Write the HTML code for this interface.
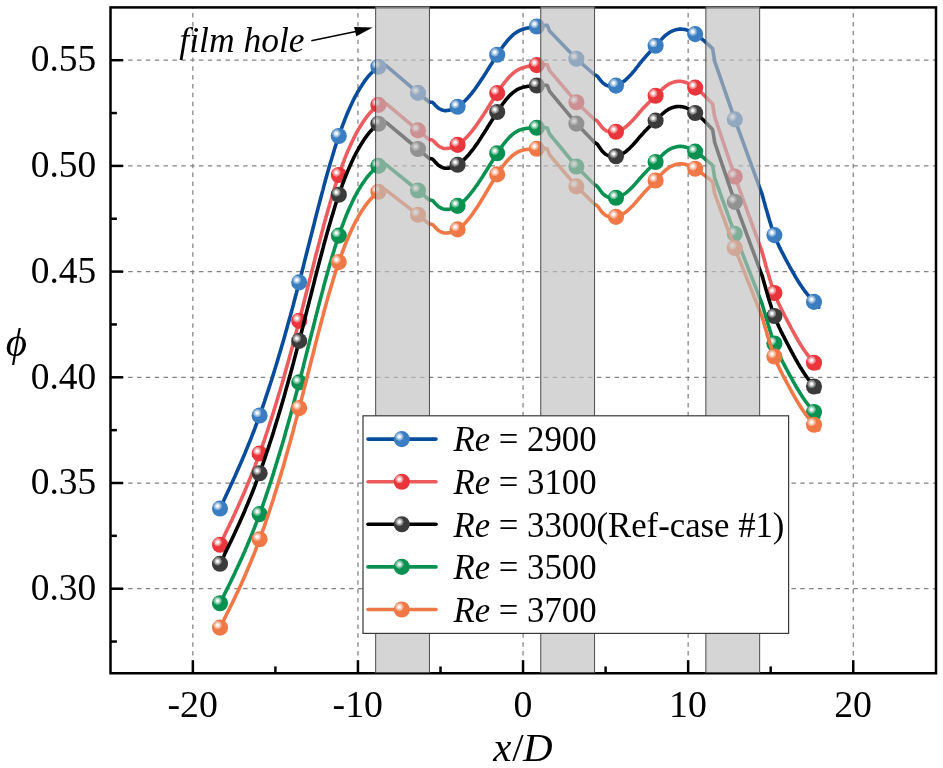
<!DOCTYPE html>
<html><head><meta charset="utf-8"><title>chart</title>
<style>
html,body{margin:0;padding:0;background:#fff;}
body{width:943px;height:768px;overflow:hidden;}
svg{display:block;will-change:transform;}
.s{font-family:"Liberation Serif",serif;fill:#000;}
</style></head><body>
<svg width="943" height="768" viewBox="0 0 943 768">
<defs>
<radialGradient id="g_blue" gradientUnits="objectBoundingBox" cx="0.35" cy="0.345" r="0.27"><stop offset="0" stop-color="#fff" stop-opacity="1"/><stop offset="0.22" stop-color="#fff" stop-opacity="0.97"/><stop offset="0.6" stop-color="#fff" stop-opacity="0.55"/><stop offset="0.97" stop-color="#fff" stop-opacity="0.2"/><stop offset="1" stop-color="#fff" stop-opacity="0"/></radialGradient>
<radialGradient id="g_red" gradientUnits="objectBoundingBox" cx="0.35" cy="0.345" r="0.27"><stop offset="0" stop-color="#fff" stop-opacity="1"/><stop offset="0.22" stop-color="#fff" stop-opacity="0.97"/><stop offset="0.6" stop-color="#fff" stop-opacity="0.55"/><stop offset="0.97" stop-color="#fff" stop-opacity="0.2"/><stop offset="1" stop-color="#fff" stop-opacity="0"/></radialGradient>
<radialGradient id="g_black" gradientUnits="objectBoundingBox" cx="0.35" cy="0.345" r="0.27"><stop offset="0" stop-color="#fff" stop-opacity="1"/><stop offset="0.22" stop-color="#fff" stop-opacity="0.97"/><stop offset="0.6" stop-color="#fff" stop-opacity="0.55"/><stop offset="0.97" stop-color="#fff" stop-opacity="0.2"/><stop offset="1" stop-color="#fff" stop-opacity="0"/></radialGradient>
<radialGradient id="g_green" gradientUnits="objectBoundingBox" cx="0.35" cy="0.345" r="0.27"><stop offset="0" stop-color="#fff" stop-opacity="1"/><stop offset="0.22" stop-color="#fff" stop-opacity="0.97"/><stop offset="0.6" stop-color="#fff" stop-opacity="0.55"/><stop offset="0.97" stop-color="#fff" stop-opacity="0.2"/><stop offset="1" stop-color="#fff" stop-opacity="0"/></radialGradient>
<radialGradient id="g_orange" gradientUnits="objectBoundingBox" cx="0.35" cy="0.345" r="0.27"><stop offset="0" stop-color="#fff" stop-opacity="1"/><stop offset="0.22" stop-color="#fff" stop-opacity="0.97"/><stop offset="0.6" stop-color="#fff" stop-opacity="0.55"/><stop offset="0.97" stop-color="#fff" stop-opacity="0.2"/><stop offset="1" stop-color="#fff" stop-opacity="0"/></radialGradient>
</defs>
<rect width="943" height="768" fill="#fff"/>
<g stroke="#828282" stroke-width="1.25" fill="none">
<path stroke-dasharray="4.45 4.411" d="M192.85 673.25 V7.40"/>
<path stroke-dasharray="4.45 4.411" d="M357.95 673.25 V7.40"/>
<path stroke-dasharray="4.45 4.411" d="M523.05 673.25 V7.40"/>
<path stroke-dasharray="4.45 4.411" d="M688.15 673.25 V7.40"/>
<path stroke-dasharray="4.45 4.411" d="M853.25 673.25 V7.40"/>
<path stroke-dasharray="4.45 4.393" d="M110.50 588.70 H936.00"/>
<path stroke-dasharray="4.45 4.393" d="M110.50 483.00 H936.00"/>
<path stroke-dasharray="4.45 4.393" d="M110.50 377.30 H936.00"/>
<path stroke-dasharray="4.45 4.393" d="M110.50 271.60 H936.00"/>
<path stroke-dasharray="4.45 4.393" d="M110.50 165.90 H936.00"/>
<path stroke-dasharray="4.45 4.393" d="M110.50 60.20 H936.00"/>
</g>
<path d="M220.0 508.5 L221.0 506.4 222.0 504.3 223.0 502.2 224.0 500.1 224.9 497.9 225.9 495.8 226.9 493.7 227.9 491.6 228.9 489.4 229.9 487.3 230.9 485.1 231.9 483.0 232.9 480.8 233.9 478.6 234.9 476.4 235.8 474.2 236.8 472.0 237.8 469.7 238.8 467.5 239.8 465.2 240.8 463.0 241.8 460.7 242.8 458.3 243.8 456.0 244.8 453.7 245.7 451.3 246.7 448.9 247.7 446.5 248.7 444.0 249.7 441.6 250.7 439.1 251.7 436.6 252.7 434.0 253.7 431.5 254.7 428.9 255.6 426.3 256.6 423.6 257.6 420.9 258.6 418.2 259.6 415.5 260.6 412.7 261.6 409.9 262.6 407.1 263.6 404.2 264.6 401.3 265.5 398.4 266.5 395.4 267.5 392.4 268.5 389.4 269.5 386.4 270.5 383.3 271.5 380.2 272.5 377.0 273.5 373.9 274.4 370.7 275.4 367.5 276.4 364.2 277.4 360.9 278.4 357.6 279.4 354.3 280.4 350.9 281.4 347.6 282.4 344.1 283.4 340.7 284.4 337.2 285.3 333.8 286.3 330.2 287.3 326.7 288.3 323.1 289.3 319.5 290.3 315.9 291.3 312.3 292.3 308.6 293.3 305.0 294.2 301.3 295.2 297.5 296.2 293.8 297.2 290.0 298.2 286.2 299.2 282.4 300.2 278.6 301.2 274.7 302.2 270.8 303.2 267.0 304.1 263.1 305.1 259.1 306.1 255.2 307.1 251.3 308.1 247.4 309.1 243.5 310.1 239.5 311.1 235.6 312.1 231.7 313.1 227.8 314.1 223.9 315.0 220.0 316.0 216.1 317.0 212.3 318.0 208.4 319.0 204.6 320.0 200.8 321.0 197.0 322.0 193.3 323.0 189.6 323.9 185.9 324.9 182.2 325.9 178.6 326.9 175.1 327.9 171.5 328.9 168.0 329.9 164.6 330.9 161.2 331.9 157.9 332.9 154.6 333.9 151.3 334.8 148.1 335.8 145.0 336.8 141.9 337.8 138.9 338.8 136.0 339.8 133.1 340.8 130.3 341.8 127.6 342.8 124.9 343.8 122.3 344.7 119.8 345.7 117.3 346.7 114.9 347.7 112.5 348.7 110.2 349.7 108.0 350.7 105.8 351.7 103.7 352.7 101.6 353.6 99.6 354.6 97.7 355.6 95.8 356.6 94.0 357.6 92.2 358.6 90.5 359.6 88.8 360.6 87.2 361.6 85.7 362.6 84.1 363.6 82.7 364.5 81.3 365.5 79.9 366.5 78.6 367.5 77.4 368.5 76.2 369.5 75.0 370.5 73.9 371.5 72.9 372.5 71.9 373.4 70.9 374.4 70.0 375.4 69.1 376.4 68.2 377.4 67.5 378.4 66.7 379.2 66.1 380.0 65.6 380.9 65.2 381.7 64.9 382.5 64.8 383.4 64.8 384.3 65.0 385.2 65.3 386.1 65.7 387.0 66.4 418.0 92.9 429.2 102.0 430.2 102.1 431.2 102.2 432.2 102.3 433.0 102.8 433.9 103.6 434.7 104.6 435.5 105.5 436.5 106.4 437.4 107.3 438.4 108.1 439.4 108.7 440.3 109.2 441.2 109.6 442.1 110.0 443.0 110.3 443.9 110.5 444.8 110.6 445.8 110.6 446.8 110.5 447.8 110.4 448.8 110.3 449.8 110.1 450.8 109.9 451.8 109.6 452.7 109.3 453.7 108.9 454.7 108.4 455.7 107.9 456.6 107.4 457.6 106.8 458.6 106.2 459.5 105.5 460.5 104.7 461.5 104.0 462.4 103.1 463.4 102.3 464.4 101.4 465.3 100.4 466.3 99.4 467.2 98.4 468.2 97.4 469.2 96.3 470.1 95.1 471.1 94.0 472.1 92.8 473.0 91.5 474.0 90.3 475.0 89.0 475.9 87.7 476.9 86.3 477.9 84.9 478.8 83.5 479.8 82.1 480.8 80.6 481.7 79.2 482.7 77.7 483.7 76.2 484.6 74.7 485.6 73.2 486.6 71.6 487.5 70.1 488.5 68.5 489.5 67.0 490.4 65.4 491.4 63.9 492.4 62.4 493.3 60.8 494.3 59.3 495.3 57.8 496.2 56.3 497.2 54.8 498.2 53.3 499.1 51.9 500.1 50.5 501.0 49.1 502.0 47.7 502.9 46.4 503.9 45.1 504.9 43.8 505.8 42.6 506.8 41.4 507.7 40.3 508.7 39.2 509.6 38.2 510.6 37.3 511.5 36.3 512.4 35.5 513.3 34.7 514.3 33.9 515.2 33.2 516.1 32.6 517.0 32.0 518.0 31.4 518.9 30.9 519.8 30.4 520.8 30.0 521.7 29.6 522.6 29.3 523.5 29.0 524.5 28.7 525.4 28.5 526.3 28.3 527.2 28.1 528.2 27.9 529.1 27.7 530.1 27.5 531.0 27.4 532.0 27.2 533.0 27.1 533.9 26.9 534.9 26.8 535.8 26.6 536.8 26.5 537.8 26.4 538.7 26.2 539.7 26.1 540.6 25.9 541.6 25.8 542.5 25.7 543.5 25.6 544.4 25.5 545.4 25.5 546.3 25.4 547.3 25.4 549.6 31.0 576.4 58.7 594.8 75.0 595.8 75.3 596.8 75.8 597.6 76.5 598.4 77.5 599.2 78.6 600.0 79.6 600.8 80.6 601.6 81.5 602.4 82.5 603.2 83.2 604.2 83.9 605.1 84.6 606.0 85.1 607.0 85.5 607.9 85.8 608.8 86.1 609.7 86.3 610.6 86.4 611.5 86.4 612.4 86.3 613.3 86.2 614.2 86.1 615.1 85.9 616.0 85.6 617.0 85.3 618.0 84.9 619.0 84.4 620.0 83.9 620.9 83.3 621.9 82.7 622.9 82.0 623.9 81.3 624.9 80.5 625.9 79.6 626.9 78.7 627.8 77.8 628.8 76.8 629.8 75.8 630.8 74.7 631.8 73.6 632.7 72.5 633.7 71.4 634.6 70.3 635.5 69.1 636.4 67.9 637.4 66.7 638.3 65.6 639.2 64.4 640.1 63.2 641.1 62.0 642.0 60.9 643.0 59.7 643.9 58.6 644.9 57.5 645.9 56.3 646.9 55.3 647.8 54.2 648.8 53.1 649.8 52.0 650.7 51.0 651.7 49.9 652.7 48.9 653.7 47.8 654.6 46.8 655.6 45.7 656.6 44.6 657.5 43.6 658.5 42.5 659.5 41.4 660.4 40.4 661.4 39.4 662.3 38.4 663.3 37.4 664.3 36.5 665.2 35.6 666.2 34.8 667.2 34.1 668.1 33.4 669.0 32.8 670.0 32.2 671.0 31.7 671.9 31.2 672.8 30.8 673.8 30.4 674.8 30.1 675.7 29.8 676.7 29.6 677.6 29.4 678.6 29.2 679.5 29.1 680.5 29.1 681.4 29.1 682.3 29.2 683.2 29.3 684.1 29.4 685.1 29.6 686.0 29.8 686.9 30.1 687.8 30.4 688.7 30.7 689.6 31.1 690.6 31.5 691.5 32.0 692.4 32.5 693.4 33.0 694.3 33.5 695.2 34.1 696.2 34.7 697.1 35.4 698.1 36.1 699.1 36.8 700.0 37.5 701.0 38.3 702.0 39.1 702.9 39.9 703.9 40.7 704.9 41.5 705.8 42.4 706.8 43.3 707.8 44.1 708.7 45.0 709.7 45.9 710.7 46.8 711.6 47.7 712.6 48.6 714.7 61.4 734.8 119.4 760.0 188.6 762.0 194.0 763.0 197.5 763.9 200.9 764.9 204.3 765.8 207.7 766.8 211.1 767.7 214.4 768.7 217.6 769.6 220.8 770.6 223.9 771.5 226.8 772.5 229.7 773.4 232.5 774.4 235.1 775.3 237.6 776.3 239.9 777.2 242.2 778.2 244.3 779.1 246.4 780.1 248.3 781.0 250.3 782.0 252.1 782.9 253.9 783.9 255.7 784.8 257.5 785.7 259.3 786.7 261.0 787.6 262.8 788.6 264.5 789.5 266.3 790.5 268.0 791.4 269.7 792.4 271.4 793.3 273.0 794.3 274.7 795.2 276.3 796.1 277.9 797.1 279.5 798.0 281.0 799.0 282.5 799.9 284.0 800.8 285.4 801.8 286.8 802.7 288.2 803.7 289.5 804.6 290.8 805.5 292.0 806.5 293.2 807.4 294.4 808.4 295.5 809.3 296.6 810.2 297.7 811.2 298.8 812.1 299.8 813.1 300.9 814.0 301.9 818.7 307.1" fill="none" stroke="#0a4c9c" stroke-width="3.6" stroke-linecap="round" stroke-linejoin="round"/>
<circle cx="220.00" cy="508.50" r="8.05" fill="#3a7dc0"/><circle cx="220.00" cy="508.50" r="8.05" fill="url(#g_blue)"/>
<circle cx="259.60" cy="415.50" r="8.05" fill="#3a7dc0"/><circle cx="259.60" cy="415.50" r="8.05" fill="url(#g_blue)"/>
<circle cx="299.20" cy="282.40" r="8.05" fill="#3a7dc0"/><circle cx="299.20" cy="282.40" r="8.05" fill="url(#g_blue)"/>
<circle cx="338.80" cy="136.00" r="8.05" fill="#3a7dc0"/><circle cx="338.80" cy="136.00" r="8.05" fill="url(#g_blue)"/>
<circle cx="378.40" cy="66.70" r="8.05" fill="#3a7dc0"/><circle cx="378.40" cy="66.70" r="8.05" fill="url(#g_blue)"/>
<circle cx="418.00" cy="92.90" r="8.05" fill="#3a7dc0"/><circle cx="418.00" cy="92.90" r="8.05" fill="url(#g_blue)"/>
<circle cx="457.60" cy="106.80" r="8.05" fill="#3a7dc0"/><circle cx="457.60" cy="106.80" r="8.05" fill="url(#g_blue)"/>
<circle cx="497.20" cy="54.80" r="8.05" fill="#3a7dc0"/><circle cx="497.20" cy="54.80" r="8.05" fill="url(#g_blue)"/>
<circle cx="536.80" cy="26.50" r="8.05" fill="#3a7dc0"/><circle cx="536.80" cy="26.50" r="8.05" fill="url(#g_blue)"/>
<circle cx="576.40" cy="58.70" r="8.05" fill="#3a7dc0"/><circle cx="576.40" cy="58.70" r="8.05" fill="url(#g_blue)"/>
<circle cx="616.00" cy="85.60" r="8.05" fill="#3a7dc0"/><circle cx="616.00" cy="85.60" r="8.05" fill="url(#g_blue)"/>
<circle cx="655.60" cy="45.70" r="8.05" fill="#3a7dc0"/><circle cx="655.60" cy="45.70" r="8.05" fill="url(#g_blue)"/>
<circle cx="695.20" cy="34.10" r="8.05" fill="#3a7dc0"/><circle cx="695.20" cy="34.10" r="8.05" fill="url(#g_blue)"/>
<circle cx="734.80" cy="119.40" r="8.05" fill="#3a7dc0"/><circle cx="734.80" cy="119.40" r="8.05" fill="url(#g_blue)"/>
<circle cx="774.40" cy="235.10" r="8.05" fill="#3a7dc0"/><circle cx="774.40" cy="235.10" r="8.05" fill="url(#g_blue)"/>
<circle cx="814.00" cy="301.90" r="8.05" fill="#3a7dc0"/><circle cx="814.00" cy="301.90" r="8.05" fill="url(#g_blue)"/>
<path d="M220.0 544.7 L221.0 542.7 222.0 540.6 223.0 538.6 224.0 536.5 224.9 534.4 225.9 532.4 226.9 530.3 227.9 528.2 228.9 526.2 229.9 524.1 230.9 522.0 231.9 519.9 232.9 517.7 233.9 515.6 234.9 513.5 235.8 511.3 236.8 509.2 237.8 507.0 238.8 504.8 239.8 502.6 240.8 500.3 241.8 498.1 242.8 495.8 243.8 493.5 244.8 491.2 245.7 488.9 246.7 486.5 247.7 484.1 248.7 481.7 249.7 479.3 250.7 476.9 251.7 474.4 252.7 471.9 253.7 469.3 254.7 466.8 255.6 464.2 256.6 461.6 257.6 458.9 258.6 456.2 259.6 453.5 260.6 450.7 261.6 448.0 262.6 445.1 263.6 442.3 264.6 439.4 265.5 436.5 266.5 433.5 267.5 430.6 268.5 427.5 269.5 424.5 270.5 421.4 271.5 418.3 272.5 415.2 273.5 412.1 274.4 408.9 275.4 405.7 276.4 402.4 277.4 399.1 278.4 395.8 279.4 392.5 280.4 389.2 281.4 385.8 282.4 382.4 283.4 379.0 284.4 375.5 285.3 372.0 286.3 368.5 287.3 365.0 288.3 361.4 289.3 357.8 290.3 354.2 291.3 350.6 292.3 347.0 293.3 343.3 294.2 339.6 295.2 335.9 296.2 332.1 297.2 328.4 298.2 324.6 299.2 320.8 300.2 317.0 301.2 313.1 302.2 309.3 303.2 305.4 304.1 301.5 305.1 297.6 306.1 293.7 307.1 289.8 308.1 285.9 309.1 282.0 310.1 278.1 311.1 274.2 312.1 270.3 313.1 266.4 314.1 262.5 315.0 258.7 316.0 254.8 317.0 251.0 318.0 247.2 319.0 243.4 320.0 239.6 321.0 235.8 322.0 232.1 323.0 228.4 323.9 224.7 324.9 221.1 325.9 217.5 326.9 214.0 327.9 210.4 328.9 207.0 329.9 203.5 330.9 200.2 331.9 196.8 332.9 193.5 333.9 190.3 334.8 187.1 335.8 184.0 336.8 180.9 337.8 177.9 338.8 175.0 339.8 172.1 340.8 169.3 341.8 166.6 342.8 163.9 343.8 161.3 344.7 158.7 345.7 156.2 346.7 153.8 347.7 151.4 348.7 149.1 349.7 146.9 350.7 144.7 351.7 142.5 352.7 140.5 353.6 138.4 354.6 136.5 355.6 134.6 356.6 132.7 357.6 130.9 358.6 129.2 359.6 127.5 360.6 125.8 361.6 124.3 362.6 122.7 363.6 121.3 364.5 119.8 365.5 118.5 366.5 117.1 367.5 115.9 368.5 114.6 369.5 113.4 370.5 112.3 371.5 111.2 372.5 110.2 373.4 109.2 374.4 108.2 375.4 107.3 376.4 106.5 377.4 105.7 378.4 104.9 379.2 104.3 380.0 103.8 380.9 103.3 381.7 103.0 382.5 102.9 383.4 102.9 384.3 103.1 385.2 103.3 386.1 103.8 387.0 104.4 418.0 130.4 429.2 139.6 430.2 139.7 431.2 139.8 432.2 140.0 433.0 140.5 433.9 141.3 434.7 142.3 435.5 143.2 436.5 144.1 437.4 145.0 438.4 145.9 439.4 146.5 440.3 147.0 441.2 147.4 442.1 147.8 443.0 148.2 443.9 148.4 444.8 148.5 445.8 148.5 446.8 148.5 447.8 148.4 448.8 148.3 449.8 148.1 450.8 147.9 451.8 147.6 452.7 147.3 453.7 146.9 454.7 146.5 455.7 146.0 456.6 145.5 457.6 144.9 458.6 144.3 459.5 143.6 460.5 142.9 461.5 142.1 462.4 141.3 463.4 140.4 464.4 139.5 465.3 138.6 466.3 137.6 467.2 136.6 468.2 135.5 469.2 134.4 470.1 133.3 471.1 132.1 472.1 130.9 473.0 129.7 474.0 128.5 475.0 127.2 475.9 125.9 476.9 124.5 477.9 123.1 478.8 121.7 479.8 120.3 480.8 118.9 481.7 117.4 482.7 115.9 483.7 114.4 484.6 112.9 485.6 111.4 486.6 109.9 487.5 108.3 488.5 106.8 489.5 105.3 490.4 103.7 491.4 102.2 492.4 100.6 493.3 99.1 494.3 97.6 495.3 96.1 496.2 94.6 497.2 93.1 498.2 91.6 499.1 90.2 500.1 88.8 501.0 87.4 502.0 86.0 502.9 84.7 503.9 83.4 504.9 82.2 505.8 80.9 506.8 79.8 507.7 78.6 508.7 77.6 509.6 76.6 510.6 75.6 511.5 74.7 512.4 73.9 513.3 73.1 514.3 72.3 515.2 71.6 516.1 71.0 517.0 70.4 518.0 69.8 518.9 69.3 519.8 68.9 520.8 68.5 521.7 68.1 522.6 67.8 523.5 67.5 524.5 67.2 525.4 67.0 526.3 66.7 527.2 66.5 528.2 66.4 529.1 66.2 530.1 66.0 531.0 65.9 532.0 65.8 533.0 65.6 533.9 65.5 534.9 65.4 535.8 65.2 536.8 65.1 537.8 65.0 538.7 64.9 539.7 64.8 540.6 64.7 541.6 64.6 542.5 64.6 543.5 64.6 544.4 64.6 545.4 64.6 546.3 64.7 547.3 64.8 549.6 70.6 576.4 102.2 594.8 119.8 595.8 120.2 596.8 120.7 597.6 121.5 598.4 122.5 599.2 123.6 600.0 124.7 600.8 125.7 601.6 126.8 602.4 127.7 603.2 128.5 604.2 129.3 605.1 130.0 606.0 130.6 607.0 131.1 607.9 131.4 608.8 131.8 609.7 132.1 610.6 132.2 611.5 132.2 612.4 132.2 613.3 132.2 614.2 132.1 615.1 132.0 616.0 131.8 617.0 131.5 618.0 131.2 619.0 130.9 620.0 130.4 620.9 129.9 621.9 129.4 622.9 128.8 623.9 128.2 624.9 127.5 625.9 126.7 626.9 125.9 627.8 125.1 628.8 124.2 629.8 123.3 630.8 122.3 631.8 121.3 632.7 120.3 633.7 119.3 634.6 118.2 635.5 117.2 636.4 116.1 637.4 115.0 638.3 113.9 639.2 112.8 640.1 111.8 641.1 110.7 642.0 109.6 643.0 108.6 643.9 107.5 644.9 106.5 645.9 105.5 646.9 104.5 647.8 103.5 648.8 102.6 649.8 101.6 650.7 100.6 651.7 99.7 652.7 98.7 653.7 97.7 654.6 96.8 655.6 95.8 656.6 94.8 657.5 93.8 658.5 92.8 659.5 91.9 660.4 90.9 661.4 90.0 662.3 89.1 663.3 88.2 664.3 87.4 665.2 86.6 666.2 85.8 667.2 85.2 668.1 84.6 669.0 84.0 670.0 83.5 671.0 83.1 671.9 82.7 672.8 82.4 673.8 82.1 674.8 81.8 675.7 81.6 676.7 81.5 677.6 81.4 678.6 81.3 679.5 81.3 680.5 81.3 681.4 81.4 682.3 81.6 683.2 81.7 684.1 82.0 685.1 82.2 686.0 82.5 686.9 82.9 687.8 83.3 688.7 83.7 689.6 84.1 690.6 84.6 691.5 85.2 692.4 85.7 693.4 86.3 694.3 86.9 695.2 87.6 696.2 88.3 697.1 89.1 698.1 89.8 699.1 90.7 700.0 91.5 701.0 92.4 702.0 93.2 702.9 94.1 703.9 95.1 704.9 96.0 705.8 97.0 706.8 97.9 707.8 98.9 708.7 99.9 709.7 100.9 710.7 101.9 711.6 102.9 712.6 103.9 714.7 116.9 734.8 176.5 760.0 246.2 762.0 251.6 763.0 255.1 763.9 258.6 764.9 262.0 765.8 265.4 766.8 268.8 767.7 272.1 768.7 275.4 769.6 278.5 770.6 281.6 771.5 284.7 772.5 287.6 773.4 290.3 774.4 293.0 775.3 295.5 776.3 297.9 777.2 300.2 778.2 302.4 779.1 304.4 780.1 306.5 781.0 308.4 782.0 310.3 782.9 312.2 783.9 314.1 784.8 315.9 785.7 317.7 786.7 319.5 787.6 321.3 788.6 323.2 789.5 324.9 790.5 326.7 791.4 328.5 792.4 330.3 793.3 332.0 794.3 333.7 795.2 335.4 796.1 337.1 797.1 338.7 798.0 340.4 799.0 341.9 799.9 343.5 800.8 345.0 801.8 346.5 802.7 348.0 803.7 349.4 804.6 350.8 805.5 352.1 806.5 353.4 807.4 354.6 808.4 355.9 809.3 357.1 810.2 358.2 811.2 359.4 812.1 360.5 813.1 361.7 814.0 362.8 818.7 368.0" fill="none" stroke="#ec5c5e" stroke-width="3.6" stroke-linecap="round" stroke-linejoin="round"/>
<circle cx="220.00" cy="544.70" r="8.05" fill="#e8363c"/><circle cx="220.00" cy="544.70" r="8.05" fill="url(#g_red)"/>
<circle cx="259.60" cy="453.50" r="8.05" fill="#e8363c"/><circle cx="259.60" cy="453.50" r="8.05" fill="url(#g_red)"/>
<circle cx="299.20" cy="320.80" r="8.05" fill="#e8363c"/><circle cx="299.20" cy="320.80" r="8.05" fill="url(#g_red)"/>
<circle cx="338.80" cy="175.00" r="8.05" fill="#e8363c"/><circle cx="338.80" cy="175.00" r="8.05" fill="url(#g_red)"/>
<circle cx="378.40" cy="104.90" r="8.05" fill="#e8363c"/><circle cx="378.40" cy="104.90" r="8.05" fill="url(#g_red)"/>
<circle cx="418.00" cy="130.40" r="8.05" fill="#e8363c"/><circle cx="418.00" cy="130.40" r="8.05" fill="url(#g_red)"/>
<circle cx="457.60" cy="144.90" r="8.05" fill="#e8363c"/><circle cx="457.60" cy="144.90" r="8.05" fill="url(#g_red)"/>
<circle cx="497.20" cy="93.10" r="8.05" fill="#e8363c"/><circle cx="497.20" cy="93.10" r="8.05" fill="url(#g_red)"/>
<circle cx="536.80" cy="65.10" r="8.05" fill="#e8363c"/><circle cx="536.80" cy="65.10" r="8.05" fill="url(#g_red)"/>
<circle cx="576.40" cy="102.20" r="8.05" fill="#e8363c"/><circle cx="576.40" cy="102.20" r="8.05" fill="url(#g_red)"/>
<circle cx="616.00" cy="131.80" r="8.05" fill="#e8363c"/><circle cx="616.00" cy="131.80" r="8.05" fill="url(#g_red)"/>
<circle cx="655.60" cy="95.80" r="8.05" fill="#e8363c"/><circle cx="655.60" cy="95.80" r="8.05" fill="url(#g_red)"/>
<circle cx="695.20" cy="87.60" r="8.05" fill="#e8363c"/><circle cx="695.20" cy="87.60" r="8.05" fill="url(#g_red)"/>
<circle cx="734.80" cy="176.50" r="8.05" fill="#e8363c"/><circle cx="734.80" cy="176.50" r="8.05" fill="url(#g_red)"/>
<circle cx="774.40" cy="293.00" r="8.05" fill="#e8363c"/><circle cx="774.40" cy="293.00" r="8.05" fill="url(#g_red)"/>
<circle cx="814.00" cy="362.80" r="8.05" fill="#e8363c"/><circle cx="814.00" cy="362.80" r="8.05" fill="url(#g_red)"/>
<path d="M220.0 563.8 L221.0 561.8 222.0 559.7 223.0 557.7 224.0 555.7 224.9 553.6 225.9 551.6 226.9 549.5 227.9 547.5 228.9 545.4 229.9 543.3 230.9 541.3 231.9 539.2 232.9 537.1 233.9 534.9 234.9 532.8 235.8 530.7 236.8 528.5 237.8 526.4 238.8 524.2 239.8 522.0 240.8 519.8 241.8 517.5 242.8 515.3 243.8 513.0 244.8 510.7 245.7 508.4 246.7 506.0 247.7 503.7 248.7 501.3 249.7 498.9 250.7 496.4 251.7 494.0 252.7 491.5 253.7 489.0 254.7 486.4 255.6 483.8 256.6 481.2 257.6 478.6 258.6 475.9 259.6 473.2 260.6 470.5 261.6 467.7 262.6 464.9 263.6 462.0 264.6 459.2 265.5 456.3 266.5 453.3 267.5 450.4 268.5 447.4 269.5 444.3 270.5 441.3 271.5 438.2 272.5 435.1 273.5 432.0 274.4 428.8 275.4 425.6 276.4 422.3 277.4 419.1 278.4 415.8 279.4 412.5 280.4 409.2 281.4 405.8 282.4 402.4 283.4 399.0 284.4 395.5 285.3 392.1 286.3 388.6 287.3 385.0 288.3 381.5 289.3 377.9 290.3 374.3 291.3 370.7 292.3 367.1 293.3 363.4 294.2 359.7 295.2 356.0 296.2 352.2 297.2 348.5 298.2 344.7 299.2 340.9 300.2 337.1 301.2 333.2 302.2 329.4 303.2 325.5 304.1 321.6 305.1 317.7 306.1 313.8 307.1 309.9 308.1 306.0 309.1 302.1 310.1 298.1 311.1 294.2 312.1 290.3 313.1 286.4 314.1 282.5 315.0 278.7 316.0 274.8 317.0 270.9 318.0 267.1 319.0 263.3 320.0 259.5 321.0 255.8 322.0 252.0 323.0 248.3 323.9 244.6 324.9 241.0 325.9 237.4 326.9 233.8 327.9 230.3 328.9 226.8 329.9 223.4 330.9 220.0 331.9 216.6 332.9 213.4 333.9 210.1 334.8 206.9 335.8 203.8 336.8 200.7 337.8 197.7 338.8 194.8 339.8 191.9 340.8 189.1 341.8 186.4 342.8 183.7 343.8 181.0 344.7 178.5 345.7 176.0 346.7 173.5 347.7 171.1 348.7 168.8 349.7 166.5 350.7 164.3 351.7 162.1 352.7 160.0 353.6 158.0 354.6 156.0 355.6 154.0 356.6 152.1 357.6 150.3 358.6 148.5 359.6 146.8 360.6 145.1 361.6 143.5 362.6 142.0 363.6 140.4 364.5 139.0 365.5 137.6 366.5 136.2 367.5 134.9 368.5 133.6 369.5 132.4 370.5 131.3 371.5 130.2 372.5 129.1 373.4 128.1 374.4 127.1 375.4 126.2 376.4 125.3 377.4 124.5 378.4 123.7 379.2 123.1 380.0 122.5 380.9 122.1 381.7 121.8 382.5 121.7 383.4 121.7 384.3 121.8 385.2 122.1 386.1 122.5 387.0 123.1 418.0 149.0 429.2 158.5 430.2 158.6 431.2 158.8 432.2 159.0 433.0 159.5 433.9 160.4 434.7 161.5 435.5 162.4 436.5 163.3 437.4 164.3 438.4 165.2 439.4 165.9 440.3 166.4 441.2 166.9 442.1 167.3 443.0 167.7 443.9 168.0 444.8 168.1 445.8 168.2 446.8 168.2 447.8 168.2 448.8 168.1 449.8 167.9 450.8 167.8 451.8 167.5 452.7 167.2 453.7 166.8 454.7 166.4 455.7 165.9 456.6 165.4 457.6 164.8 458.6 164.2 459.5 163.5 460.5 162.7 461.5 161.9 462.4 161.1 463.4 160.2 464.4 159.3 465.3 158.3 466.3 157.3 467.2 156.3 468.2 155.2 469.2 154.1 470.1 152.9 471.1 151.7 472.1 150.5 473.0 149.3 474.0 148.0 475.0 146.6 475.9 145.3 476.9 143.9 477.9 142.5 478.8 141.1 479.8 139.6 480.8 138.1 481.7 136.6 482.7 135.1 483.7 133.6 484.6 132.1 485.6 130.5 486.6 129.0 487.5 127.4 488.5 125.8 489.5 124.3 490.4 122.7 491.4 121.2 492.4 119.6 493.3 118.1 494.3 116.5 495.3 115.0 496.2 113.5 497.2 112.0 498.2 110.5 499.1 109.1 500.1 107.7 501.0 106.3 502.0 105.0 502.9 103.6 503.9 102.4 504.9 101.1 505.8 99.9 506.8 98.8 507.7 97.7 508.7 96.6 509.6 95.6 510.6 94.7 511.5 93.9 512.4 93.0 513.3 92.3 514.3 91.6 515.2 90.9 516.1 90.3 517.0 89.7 518.0 89.2 518.9 88.8 519.8 88.3 520.8 88.0 521.7 87.7 522.6 87.4 523.5 87.1 524.5 86.9 525.4 86.7 526.3 86.6 527.2 86.4 528.2 86.3 529.1 86.2 530.1 86.1 531.0 86.0 532.0 85.9 533.0 85.8 533.9 85.7 534.9 85.7 535.8 85.6 536.8 85.5 537.8 85.4 538.7 85.4 539.7 85.3 540.6 85.3 541.6 85.2 542.5 85.2 543.5 85.2 544.4 85.3 545.4 85.3 546.3 85.4 547.3 85.5 549.6 91.4 576.4 123.6 594.8 142.7 595.8 143.2 596.8 143.8 597.6 144.6 598.4 145.7 599.2 146.9 600.0 148.1 600.8 149.2 601.6 150.3 602.4 151.3 603.2 152.2 604.2 153.0 605.1 153.8 606.0 154.5 607.0 155.0 607.9 155.5 608.8 155.9 609.7 156.2 610.6 156.4 611.5 156.5 612.4 156.6 613.3 156.6 614.2 156.5 615.1 156.4 616.0 156.3 617.0 156.1 618.0 155.8 619.0 155.5 620.0 155.1 620.9 154.6 621.9 154.1 622.9 153.5 623.9 152.9 624.9 152.2 625.9 151.5 626.9 150.7 627.8 149.9 628.8 149.0 629.8 148.1 630.8 147.1 631.8 146.1 632.7 145.1 633.7 144.1 634.6 143.0 635.5 142.0 636.4 140.9 637.4 139.8 638.3 138.7 639.2 137.6 640.1 136.5 641.1 135.5 642.0 134.4 643.0 133.4 643.9 132.3 644.9 131.3 645.9 130.3 646.9 129.3 647.8 128.3 648.8 127.3 649.8 126.4 650.7 125.4 651.7 124.4 652.7 123.5 653.7 122.5 654.6 121.6 655.6 120.6 656.6 119.6 657.5 118.7 658.5 117.7 659.5 116.7 660.4 115.8 661.4 114.8 662.3 114.0 663.3 113.1 664.3 112.3 665.2 111.5 666.2 110.8 667.2 110.2 668.1 109.6 669.0 109.0 670.0 108.6 671.0 108.1 671.9 107.8 672.8 107.5 673.8 107.2 674.8 106.9 675.7 106.8 676.7 106.6 677.6 106.5 678.6 106.5 679.5 106.5 680.5 106.6 681.4 106.7 682.3 106.8 683.2 107.0 684.1 107.2 685.1 107.5 686.0 107.8 686.9 108.2 687.8 108.6 688.7 109.0 689.6 109.5 690.6 110.0 691.5 110.5 692.4 111.1 693.4 111.7 694.3 112.3 695.2 113.0 696.2 113.7 697.1 114.5 698.1 115.3 699.1 116.1 700.0 116.9 701.0 117.8 702.0 118.7 702.9 119.6 703.9 120.6 704.9 121.5 705.8 122.5 706.8 123.5 707.8 124.5 708.7 125.5 709.7 126.5 710.7 127.5 711.6 128.5 712.6 129.5 714.7 142.5 734.8 201.9 760.0 270.0 762.0 275.3 763.0 278.7 763.9 282.1 764.9 285.5 765.8 288.8 766.8 292.1 767.7 295.4 768.7 298.6 769.6 301.7 770.6 304.8 771.5 307.8 772.5 310.6 773.4 313.4 774.4 316.0 775.3 318.5 776.3 320.8 777.2 323.1 778.2 325.3 779.1 327.3 780.1 329.3 781.0 331.3 782.0 333.2 782.9 335.0 783.9 336.9 784.8 338.7 785.7 340.5 786.7 342.4 787.6 344.2 788.6 346.0 789.5 347.8 790.5 349.6 791.4 351.4 792.4 353.1 793.3 354.9 794.3 356.6 795.2 358.4 796.1 360.0 797.1 361.7 798.0 363.4 799.0 365.0 799.9 366.6 800.8 368.1 801.8 369.6 802.7 371.1 803.7 372.6 804.6 374.0 805.5 375.4 806.5 376.7 807.4 378.0 808.4 379.3 809.3 380.5 810.2 381.7 811.2 382.9 812.1 384.1 813.1 385.3 814.0 386.5 818.7 391.7" fill="none" stroke="#000000" stroke-width="3.6" stroke-linecap="round" stroke-linejoin="round"/>
<circle cx="220.00" cy="563.80" r="8.05" fill="#3b3b3b"/><circle cx="220.00" cy="563.80" r="8.05" fill="url(#g_black)"/>
<circle cx="259.60" cy="473.20" r="8.05" fill="#3b3b3b"/><circle cx="259.60" cy="473.20" r="8.05" fill="url(#g_black)"/>
<circle cx="299.20" cy="340.90" r="8.05" fill="#3b3b3b"/><circle cx="299.20" cy="340.90" r="8.05" fill="url(#g_black)"/>
<circle cx="338.80" cy="194.80" r="8.05" fill="#3b3b3b"/><circle cx="338.80" cy="194.80" r="8.05" fill="url(#g_black)"/>
<circle cx="378.40" cy="123.70" r="8.05" fill="#3b3b3b"/><circle cx="378.40" cy="123.70" r="8.05" fill="url(#g_black)"/>
<circle cx="418.00" cy="149.00" r="8.05" fill="#3b3b3b"/><circle cx="418.00" cy="149.00" r="8.05" fill="url(#g_black)"/>
<circle cx="457.60" cy="164.80" r="8.05" fill="#3b3b3b"/><circle cx="457.60" cy="164.80" r="8.05" fill="url(#g_black)"/>
<circle cx="497.20" cy="112.00" r="8.05" fill="#3b3b3b"/><circle cx="497.20" cy="112.00" r="8.05" fill="url(#g_black)"/>
<circle cx="536.80" cy="85.50" r="8.05" fill="#3b3b3b"/><circle cx="536.80" cy="85.50" r="8.05" fill="url(#g_black)"/>
<circle cx="576.40" cy="123.60" r="8.05" fill="#3b3b3b"/><circle cx="576.40" cy="123.60" r="8.05" fill="url(#g_black)"/>
<circle cx="616.00" cy="156.30" r="8.05" fill="#3b3b3b"/><circle cx="616.00" cy="156.30" r="8.05" fill="url(#g_black)"/>
<circle cx="655.60" cy="120.60" r="8.05" fill="#3b3b3b"/><circle cx="655.60" cy="120.60" r="8.05" fill="url(#g_black)"/>
<circle cx="695.20" cy="113.00" r="8.05" fill="#3b3b3b"/><circle cx="695.20" cy="113.00" r="8.05" fill="url(#g_black)"/>
<circle cx="734.80" cy="201.90" r="8.05" fill="#3b3b3b"/><circle cx="734.80" cy="201.90" r="8.05" fill="url(#g_black)"/>
<circle cx="774.40" cy="316.00" r="8.05" fill="#3b3b3b"/><circle cx="774.40" cy="316.00" r="8.05" fill="url(#g_black)"/>
<circle cx="814.00" cy="386.50" r="8.05" fill="#3b3b3b"/><circle cx="814.00" cy="386.50" r="8.05" fill="url(#g_black)"/>
<path d="M220.0 603.2 L221.0 601.2 222.0 599.2 223.0 597.2 224.0 595.3 224.9 593.3 225.9 591.3 226.9 589.3 227.9 587.3 228.9 585.2 229.9 583.2 230.9 581.2 231.9 579.1 232.9 577.1 233.9 575.0 234.9 572.9 235.8 570.8 236.8 568.7 237.8 566.6 238.8 564.4 239.8 562.3 240.8 560.1 241.8 557.9 242.8 555.7 243.8 553.4 244.8 551.2 245.7 548.9 246.7 546.6 247.7 544.3 248.7 541.9 249.7 539.5 250.7 537.1 251.7 534.7 252.7 532.2 253.7 529.7 254.7 527.2 255.6 524.6 256.6 522.1 257.6 519.4 258.6 516.8 259.6 514.1 260.6 511.4 261.6 508.6 262.6 505.8 263.6 503.0 264.6 500.2 265.5 497.3 266.5 494.4 267.5 491.5 268.5 488.5 269.5 485.5 270.5 482.5 271.5 479.4 272.5 476.3 273.5 473.2 274.4 470.0 275.4 466.9 276.4 463.6 277.4 460.4 278.4 457.1 279.4 453.9 280.4 450.5 281.4 447.2 282.4 443.8 283.4 440.4 284.4 437.0 285.3 433.5 286.3 430.0 287.3 426.5 288.3 423.0 289.3 419.4 290.3 415.8 291.3 412.2 292.3 408.6 293.3 404.9 294.2 401.2 295.2 397.5 296.2 393.8 297.2 390.0 298.2 386.2 299.2 382.4 300.2 378.6 301.2 374.7 302.2 370.8 303.2 366.9 304.1 363.0 305.1 359.1 306.1 355.2 307.1 351.3 308.1 347.3 309.1 343.4 310.1 339.5 311.1 335.5 312.1 331.6 313.1 327.7 314.1 323.8 315.0 319.9 316.0 316.0 317.0 312.1 318.0 308.3 319.0 304.4 320.0 300.6 321.0 296.9 322.0 293.1 323.0 289.4 323.9 285.7 324.9 282.0 325.9 278.4 326.9 274.8 327.9 271.3 328.9 267.8 329.9 264.3 330.9 260.9 331.9 257.5 332.9 254.2 333.9 251.0 334.8 247.8 335.8 244.6 336.8 241.6 337.8 238.5 338.8 235.6 339.8 232.7 340.8 229.9 341.8 227.2 342.8 224.5 343.8 221.9 344.7 219.3 345.7 216.8 346.7 214.4 347.7 212.0 348.7 209.7 349.7 207.5 350.7 205.3 351.7 203.2 352.7 201.1 353.6 199.1 354.6 197.1 355.6 195.3 356.6 193.4 357.6 191.6 358.6 189.9 359.6 188.2 360.6 186.6 361.6 185.1 362.6 183.5 363.6 182.1 364.5 180.7 365.5 179.3 366.5 178.0 367.5 176.7 368.5 175.5 369.5 174.4 370.5 173.2 371.5 172.2 372.5 171.1 373.4 170.2 374.4 169.2 375.4 168.3 376.4 167.5 377.4 166.7 378.4 165.9 379.2 165.3 380.0 164.8 380.9 164.3 381.7 164.0 382.5 163.9 383.4 163.9 384.3 164.0 385.2 164.3 386.1 164.7 387.0 165.3 418.0 190.5 429.2 199.9 430.2 200.0 431.2 200.2 432.2 200.4 433.0 200.9 433.9 201.8 434.7 202.8 435.5 203.7 436.5 204.7 437.4 205.6 438.4 206.5 439.4 207.1 440.3 207.6 441.2 208.1 442.1 208.6 443.0 208.9 443.9 209.2 444.8 209.3 445.8 209.4 446.8 209.4 447.8 209.3 448.8 209.2 449.8 209.1 450.8 208.9 451.8 208.6 452.7 208.3 453.7 207.9 454.7 207.5 455.7 207.0 456.6 206.5 457.6 205.9 458.6 205.3 459.5 204.6 460.5 203.8 461.5 203.0 462.4 202.2 463.4 201.3 464.4 200.4 465.3 199.5 466.3 198.5 467.2 197.4 468.2 196.4 469.2 195.2 470.1 194.1 471.1 192.9 472.1 191.7 473.0 190.4 474.0 189.1 475.0 187.8 475.9 186.5 476.9 185.1 477.9 183.7 478.8 182.3 479.8 180.8 480.8 179.4 481.7 177.9 482.7 176.4 483.7 174.8 484.6 173.3 485.6 171.8 486.6 170.2 487.5 168.7 488.5 167.1 489.5 165.6 490.4 164.0 491.4 162.4 492.4 160.9 493.3 159.3 494.3 157.8 495.3 156.3 496.2 154.8 497.2 153.3 498.2 151.8 499.1 150.4 500.1 149.0 501.0 147.6 502.0 146.3 502.9 145.0 503.9 143.7 504.9 142.5 505.8 141.3 506.8 140.1 507.7 139.1 508.7 138.0 509.6 137.1 510.6 136.2 511.5 135.3 512.4 134.5 513.3 133.8 514.3 133.1 515.2 132.5 516.1 131.9 517.0 131.3 518.0 130.9 518.9 130.4 519.8 130.0 520.8 129.7 521.7 129.4 522.6 129.1 523.5 128.9 524.5 128.7 525.4 128.6 526.3 128.4 527.2 128.3 528.2 128.2 529.1 128.1 530.1 128.1 531.0 128.0 532.0 127.9 533.0 127.9 533.9 127.8 534.9 127.8 535.8 127.7 536.8 127.7 537.8 127.7 538.7 127.6 539.7 127.6 540.6 127.6 541.6 127.6 542.5 127.6 543.5 127.6 544.4 127.7 545.4 127.8 546.3 127.9 547.3 128.0 549.6 134.0 576.4 166.5 594.8 184.9 595.8 185.3 596.8 185.9 597.6 186.7 598.4 187.8 599.2 188.9 600.0 190.1 600.8 191.1 601.6 192.2 602.4 193.2 603.2 194.0 604.2 194.8 605.1 195.5 606.0 196.2 607.0 196.7 607.9 197.1 608.8 197.5 609.7 197.8 610.6 197.9 611.5 198.0 612.4 198.0 613.3 198.0 614.2 198.0 615.1 197.9 616.0 197.7 617.0 197.5 618.0 197.2 619.0 196.8 620.0 196.4 620.9 196.0 621.9 195.5 622.9 194.9 623.9 194.3 624.9 193.6 625.9 192.9 626.9 192.1 627.8 191.3 628.8 190.5 629.8 189.5 630.8 188.6 631.8 187.6 632.7 186.6 633.7 185.6 634.6 184.6 635.5 183.6 636.4 182.5 637.4 181.4 638.3 180.4 639.2 179.3 640.1 178.2 641.1 177.1 642.0 176.1 643.0 175.0 643.9 174.0 644.9 173.0 645.9 171.9 646.9 170.9 647.8 169.9 648.8 169.0 649.8 168.0 650.7 167.0 651.7 166.0 652.7 165.0 653.7 164.0 654.6 163.0 655.6 162.0 656.6 161.0 657.5 159.9 658.5 158.9 659.5 157.9 660.4 156.9 661.4 155.9 662.3 155.0 663.3 154.1 664.3 153.2 665.2 152.4 666.2 151.6 667.2 150.9 668.1 150.2 669.0 149.6 670.0 149.1 671.0 148.6 671.9 148.2 672.8 147.8 673.8 147.5 674.8 147.2 675.7 146.9 676.7 146.7 677.6 146.6 678.6 146.5 679.5 146.4 680.5 146.4 681.4 146.4 682.3 146.5 683.2 146.6 684.1 146.8 685.1 147.0 686.0 147.2 686.9 147.5 687.8 147.8 688.7 148.2 689.6 148.6 690.6 149.0 691.5 149.5 692.4 150.0 693.4 150.5 694.3 151.0 695.2 151.6 696.2 152.2 697.1 152.9 698.1 153.6 699.1 154.3 700.0 155.0 701.0 155.7 702.0 156.4 702.9 157.2 703.9 158.0 704.9 158.8 705.8 159.6 706.8 160.4 707.8 161.2 708.7 162.0 709.7 162.8 710.7 163.7 711.6 164.5 712.6 165.3 714.7 177.9 734.8 233.9 760.0 298.5 762.0 303.5 763.0 306.9 763.9 310.2 764.9 313.4 765.8 316.7 766.8 320.0 767.7 323.1 768.7 326.3 769.6 329.4 770.6 332.4 771.5 335.3 772.5 338.1 773.4 340.9 774.4 343.5 775.3 346.0 776.3 348.3 777.2 350.6 778.2 352.7 779.1 354.8 780.1 356.7 781.0 358.7 782.0 360.5 782.9 362.4 783.9 364.1 784.8 365.9 785.7 367.7 786.7 369.5 787.6 371.2 788.6 373.0 789.5 374.8 790.5 376.5 791.4 378.2 792.4 379.9 793.3 381.6 794.3 383.3 795.2 384.9 796.1 386.6 797.1 388.2 798.0 389.8 799.0 391.3 799.9 392.8 800.8 394.3 801.8 395.8 802.7 397.2 803.7 398.6 804.6 400.0 805.5 401.3 806.5 402.5 807.4 403.8 808.4 405.0 809.3 406.2 810.2 407.4 811.2 408.5 812.1 409.7 813.1 410.8 814.0 412.0 818.7 417.2" fill="none" stroke="#089150" stroke-width="3.6" stroke-linecap="round" stroke-linejoin="round"/>
<circle cx="220.00" cy="603.20" r="8.05" fill="#089150"/><circle cx="220.00" cy="603.20" r="8.05" fill="url(#g_green)"/>
<circle cx="259.60" cy="514.10" r="8.05" fill="#089150"/><circle cx="259.60" cy="514.10" r="8.05" fill="url(#g_green)"/>
<circle cx="299.20" cy="382.40" r="8.05" fill="#089150"/><circle cx="299.20" cy="382.40" r="8.05" fill="url(#g_green)"/>
<circle cx="338.80" cy="235.60" r="8.05" fill="#089150"/><circle cx="338.80" cy="235.60" r="8.05" fill="url(#g_green)"/>
<circle cx="378.40" cy="165.90" r="8.05" fill="#089150"/><circle cx="378.40" cy="165.90" r="8.05" fill="url(#g_green)"/>
<circle cx="418.00" cy="190.50" r="8.05" fill="#089150"/><circle cx="418.00" cy="190.50" r="8.05" fill="url(#g_green)"/>
<circle cx="457.60" cy="205.90" r="8.05" fill="#089150"/><circle cx="457.60" cy="205.90" r="8.05" fill="url(#g_green)"/>
<circle cx="497.20" cy="153.30" r="8.05" fill="#089150"/><circle cx="497.20" cy="153.30" r="8.05" fill="url(#g_green)"/>
<circle cx="536.80" cy="127.70" r="8.05" fill="#089150"/><circle cx="536.80" cy="127.70" r="8.05" fill="url(#g_green)"/>
<circle cx="576.40" cy="166.50" r="8.05" fill="#089150"/><circle cx="576.40" cy="166.50" r="8.05" fill="url(#g_green)"/>
<circle cx="616.00" cy="197.70" r="8.05" fill="#089150"/><circle cx="616.00" cy="197.70" r="8.05" fill="url(#g_green)"/>
<circle cx="655.60" cy="162.00" r="8.05" fill="#089150"/><circle cx="655.60" cy="162.00" r="8.05" fill="url(#g_green)"/>
<circle cx="695.20" cy="151.60" r="8.05" fill="#089150"/><circle cx="695.20" cy="151.60" r="8.05" fill="url(#g_green)"/>
<circle cx="734.80" cy="233.90" r="8.05" fill="#089150"/><circle cx="734.80" cy="233.90" r="8.05" fill="url(#g_green)"/>
<circle cx="774.40" cy="343.50" r="8.05" fill="#089150"/><circle cx="774.40" cy="343.50" r="8.05" fill="url(#g_green)"/>
<circle cx="814.00" cy="412.00" r="8.05" fill="#089150"/><circle cx="814.00" cy="412.00" r="8.05" fill="url(#g_green)"/>
<path d="M220.0 627.6 L221.0 625.6 222.0 623.7 223.0 621.7 224.0 619.8 224.9 617.8 225.9 615.8 226.9 613.8 227.9 611.8 228.9 609.8 229.9 607.8 230.9 605.8 231.9 603.8 232.9 601.8 233.9 599.7 234.9 597.6 235.8 595.6 236.8 593.5 237.8 591.4 238.8 589.2 239.8 587.1 240.8 584.9 241.8 582.8 242.8 580.6 243.8 578.3 244.8 576.1 245.7 573.8 246.7 571.6 247.7 569.2 248.7 566.9 249.7 564.5 250.7 562.2 251.7 559.7 252.7 557.3 253.7 554.8 254.7 552.3 255.6 549.8 256.6 547.2 257.6 544.6 258.6 542.0 259.6 539.3 260.6 536.6 261.6 533.9 262.6 531.1 263.6 528.3 264.6 525.5 265.5 522.6 266.5 519.7 267.5 516.8 268.5 513.8 269.5 510.8 270.5 507.8 271.5 504.8 272.5 501.7 273.5 498.6 274.4 495.4 275.4 492.3 276.4 489.1 277.4 485.8 278.4 482.6 279.4 479.3 280.4 476.0 281.4 472.7 282.4 469.3 283.4 465.9 284.4 462.5 285.3 459.0 286.3 455.6 287.3 452.1 288.3 448.5 289.3 445.0 290.3 441.4 291.3 437.8 292.3 434.2 293.3 430.5 294.2 426.8 295.2 423.1 296.2 419.4 297.2 415.7 298.2 411.9 299.2 408.1 300.2 404.3 301.2 400.4 302.2 396.6 303.2 392.7 304.1 388.8 305.1 384.9 306.1 381.0 307.1 377.1 308.1 373.2 309.1 369.3 310.1 365.4 311.1 361.5 312.1 357.6 313.1 353.7 314.1 349.8 315.0 345.9 316.0 342.1 317.0 338.2 318.0 334.4 319.0 330.6 320.0 326.8 321.0 323.0 322.0 319.3 323.0 315.6 323.9 311.9 324.9 308.3 325.9 304.7 326.9 301.1 327.9 297.6 328.9 294.1 329.9 290.7 330.9 287.3 331.9 283.9 332.9 280.6 333.9 277.4 334.8 274.2 335.8 271.1 336.8 268.0 337.8 265.0 338.8 262.1 339.8 259.2 340.8 256.4 341.8 253.7 342.8 251.0 343.8 248.4 344.7 245.8 345.7 243.3 346.7 240.9 347.7 238.5 348.7 236.2 349.7 234.0 350.7 231.8 351.7 229.6 352.7 227.5 353.6 225.5 354.6 223.5 355.6 221.6 356.6 219.8 357.6 218.0 358.6 216.2 359.6 214.5 360.6 212.9 361.6 211.3 362.6 209.8 363.6 208.3 364.5 206.8 365.5 205.5 366.5 204.1 367.5 202.8 368.5 201.6 369.5 200.4 370.5 199.3 371.5 198.2 372.5 197.1 373.4 196.1 374.4 195.1 375.4 194.2 376.4 193.3 377.4 192.5 378.4 191.7 379.2 191.1 380.0 190.5 380.9 190.1 381.7 189.7 382.5 189.6 383.4 189.6 384.3 189.6 385.2 189.9 386.1 190.2 387.0 190.8 418.0 214.8 429.2 224.0 430.2 224.1 431.2 224.3 432.2 224.5 433.0 224.9 433.9 225.8 434.7 226.8 435.5 227.7 436.5 228.6 437.4 229.5 438.4 230.4 439.4 231.0 440.3 231.5 441.2 231.9 442.1 232.4 443.0 232.7 443.9 232.9 444.8 233.0 445.8 233.0 446.8 233.0 447.8 232.9 448.8 232.8 449.8 232.7 450.8 232.4 451.8 232.2 452.7 231.8 453.7 231.5 454.7 231.0 455.7 230.5 456.6 230.0 457.6 229.4 458.6 228.8 459.5 228.1 460.5 227.3 461.5 226.5 462.4 225.6 463.4 224.7 464.4 223.7 465.3 222.7 466.3 221.7 467.2 220.6 468.2 219.4 469.2 218.2 470.1 217.0 471.1 215.8 472.1 214.5 473.0 213.1 474.0 211.7 475.0 210.3 475.9 208.9 476.9 207.5 477.9 206.0 478.8 204.5 479.8 202.9 480.8 201.4 481.7 199.8 482.7 198.2 483.7 196.6 484.6 195.0 485.6 193.4 486.6 191.8 487.5 190.1 488.5 188.5 489.5 186.9 490.4 185.3 491.4 183.7 492.4 182.1 493.3 180.5 494.3 179.0 495.3 177.4 496.2 175.9 497.2 174.4 498.2 172.9 499.1 171.5 500.1 170.1 501.0 168.7 502.0 167.4 502.9 166.1 503.9 164.8 504.9 163.6 505.8 162.4 506.8 161.2 507.7 160.2 508.7 159.1 509.6 158.2 510.6 157.3 511.5 156.4 512.4 155.6 513.3 154.9 514.3 154.2 515.2 153.6 516.1 153.0 517.0 152.4 518.0 151.9 518.9 151.5 519.8 151.1 520.8 150.8 521.7 150.5 522.6 150.2 523.5 150.0 524.5 149.8 525.4 149.6 526.3 149.5 527.2 149.4 528.2 149.3 529.1 149.2 530.1 149.1 531.0 149.0 532.0 149.0 533.0 148.9 533.9 148.9 534.9 148.8 535.8 148.8 536.8 148.7 537.8 148.6 538.7 148.6 539.7 148.6 540.6 148.5 541.6 148.5 542.5 148.5 543.5 148.5 544.4 148.6 545.4 148.6 546.3 148.7 547.3 148.8 549.6 154.8 576.4 186.4 594.8 204.5 595.8 204.9 596.8 205.5 597.6 206.2 598.4 207.3 599.2 208.4 600.0 209.5 600.8 210.6 601.6 211.6 602.4 212.6 603.2 213.4 604.2 214.2 605.1 214.9 606.0 215.5 607.0 216.0 607.9 216.4 608.8 216.8 609.7 217.1 610.6 217.2 611.5 217.3 612.4 217.3 613.3 217.3 614.2 217.2 615.1 217.1 616.0 216.9 617.0 216.7 618.0 216.4 619.0 216.0 620.0 215.6 620.9 215.1 621.9 214.6 622.9 214.0 623.9 213.4 624.9 212.7 625.9 212.0 626.9 211.2 627.8 210.4 628.8 209.5 629.8 208.6 630.8 207.6 631.8 206.6 632.7 205.7 633.7 204.7 634.6 203.6 635.5 202.6 636.4 201.5 637.4 200.4 638.3 199.3 639.2 198.2 640.1 197.2 641.1 196.1 642.0 195.0 643.0 193.9 643.9 192.9 644.9 191.8 645.9 190.8 646.9 189.8 647.8 188.7 648.8 187.7 649.8 186.7 650.7 185.7 651.7 184.7 652.7 183.6 653.7 182.6 654.6 181.6 655.6 180.5 656.6 179.4 657.5 178.4 658.5 177.3 659.5 176.2 660.4 175.2 661.4 174.1 662.3 173.2 663.3 172.2 664.3 171.3 665.2 170.4 666.2 169.6 667.2 168.9 668.1 168.2 669.0 167.5 670.0 167.0 671.0 166.4 671.9 166.0 672.8 165.6 673.8 165.2 674.8 164.8 675.7 164.6 676.7 164.3 677.6 164.1 678.6 164.0 679.5 163.9 680.5 163.9 681.4 163.9 682.3 163.9 683.2 164.0 684.1 164.2 685.1 164.3 686.0 164.6 686.9 164.8 687.8 165.1 688.7 165.5 689.6 165.8 690.6 166.3 691.5 166.7 692.4 167.2 693.4 167.7 694.3 168.2 695.2 168.8 696.2 169.4 697.1 170.1 698.1 170.7 699.1 171.4 700.0 172.1 701.0 172.7 702.0 173.4 702.9 174.2 703.9 174.9 704.9 175.6 705.8 176.3 706.8 177.1 707.8 177.8 708.7 178.5 709.7 179.3 710.7 180.0 711.6 180.8 712.6 181.5 714.7 193.9 734.8 248.0 760.0 311.6 762.0 316.6 763.0 319.9 763.9 323.2 764.9 326.5 765.8 329.8 766.8 333.0 767.7 336.2 768.7 339.3 769.6 342.4 770.6 345.4 771.5 348.3 772.5 351.1 773.4 353.9 774.4 356.5 775.3 359.0 776.3 361.3 777.2 363.6 778.2 365.7 779.1 367.8 780.1 369.7 781.0 371.7 782.0 373.5 782.9 375.3 783.9 377.1 784.8 378.9 785.7 380.7 786.7 382.5 787.6 384.2 788.6 386.0 789.5 387.7 790.5 389.5 791.4 391.2 792.4 392.9 793.3 394.6 794.3 396.3 795.2 397.9 796.1 399.5 797.1 401.1 798.0 402.7 799.0 404.2 799.9 405.8 800.8 407.2 801.8 408.7 802.7 410.1 803.7 411.5 804.6 412.8 805.5 414.1 806.5 415.4 807.4 416.6 808.4 417.8 809.3 419.0 810.2 420.2 811.2 421.3 812.1 422.4 813.1 423.6 814.0 424.7 818.7 429.9" fill="none" stroke="#f07846" stroke-width="3.6" stroke-linecap="round" stroke-linejoin="round"/>
<circle cx="220.00" cy="627.60" r="8.05" fill="#f07846"/><circle cx="220.00" cy="627.60" r="8.05" fill="url(#g_orange)"/>
<circle cx="259.60" cy="539.30" r="8.05" fill="#f07846"/><circle cx="259.60" cy="539.30" r="8.05" fill="url(#g_orange)"/>
<circle cx="299.20" cy="408.10" r="8.05" fill="#f07846"/><circle cx="299.20" cy="408.10" r="8.05" fill="url(#g_orange)"/>
<circle cx="338.80" cy="262.10" r="8.05" fill="#f07846"/><circle cx="338.80" cy="262.10" r="8.05" fill="url(#g_orange)"/>
<circle cx="378.40" cy="191.70" r="8.05" fill="#f07846"/><circle cx="378.40" cy="191.70" r="8.05" fill="url(#g_orange)"/>
<circle cx="418.00" cy="214.80" r="8.05" fill="#f07846"/><circle cx="418.00" cy="214.80" r="8.05" fill="url(#g_orange)"/>
<circle cx="457.60" cy="229.40" r="8.05" fill="#f07846"/><circle cx="457.60" cy="229.40" r="8.05" fill="url(#g_orange)"/>
<circle cx="497.20" cy="174.40" r="8.05" fill="#f07846"/><circle cx="497.20" cy="174.40" r="8.05" fill="url(#g_orange)"/>
<circle cx="536.80" cy="148.70" r="8.05" fill="#f07846"/><circle cx="536.80" cy="148.70" r="8.05" fill="url(#g_orange)"/>
<circle cx="576.40" cy="186.40" r="8.05" fill="#f07846"/><circle cx="576.40" cy="186.40" r="8.05" fill="url(#g_orange)"/>
<circle cx="616.00" cy="216.90" r="8.05" fill="#f07846"/><circle cx="616.00" cy="216.90" r="8.05" fill="url(#g_orange)"/>
<circle cx="655.60" cy="180.50" r="8.05" fill="#f07846"/><circle cx="655.60" cy="180.50" r="8.05" fill="url(#g_orange)"/>
<circle cx="695.20" cy="168.80" r="8.05" fill="#f07846"/><circle cx="695.20" cy="168.80" r="8.05" fill="url(#g_orange)"/>
<circle cx="734.80" cy="248.00" r="8.05" fill="#f07846"/><circle cx="734.80" cy="248.00" r="8.05" fill="url(#g_orange)"/>
<circle cx="774.40" cy="356.50" r="8.05" fill="#f07846"/><circle cx="774.40" cy="356.50" r="8.05" fill="url(#g_orange)"/>
<circle cx="814.00" cy="424.70" r="8.05" fill="#f07846"/><circle cx="814.00" cy="424.70" r="8.05" fill="url(#g_orange)"/>
<g stroke="#000" stroke-width="2.5" fill="none" stroke-linecap="butt">
<rect x="110.50" y="7.40" width="825.50" height="665.85"/>
<path d="M192.85 673.25 V660.25"/>
<path d="M357.95 673.25 V660.25"/>
<path d="M523.05 673.25 V660.25"/>
<path d="M688.15 673.25 V660.25"/>
<path d="M853.25 673.25 V660.25"/>
<path d="M275.40 673.25 V666.45"/>
<path d="M440.50 673.25 V666.45"/>
<path d="M605.60 673.25 V666.45"/>
<path d="M770.70 673.25 V666.45"/>
<path d="M110.50 588.70 H123.10"/>
<path d="M110.50 483.00 H123.10"/>
<path d="M110.50 377.30 H123.10"/>
<path d="M110.50 271.60 H123.10"/>
<path d="M110.50 165.90 H123.10"/>
<path d="M110.50 60.20 H123.10"/>
<path d="M110.50 641.55 H116.90"/>
<path d="M110.50 535.85 H116.90"/>
<path d="M110.50 430.15 H116.90"/>
<path d="M110.50 324.45 H116.90"/>
<path d="M110.50 218.75 H116.90"/>
<path d="M110.50 113.05 H116.90"/>
</g>
<rect x="375.65" y="6.50" width="53.80" height="666.10" fill="#c0c0c0" fill-opacity="0.66" stroke="#4c4c4c" stroke-width="1.0"/>
<rect x="540.75" y="6.50" width="53.80" height="666.10" fill="#c0c0c0" fill-opacity="0.66" stroke="#4c4c4c" stroke-width="1.0"/>
<rect x="705.85" y="6.50" width="53.80" height="666.10" fill="#c0c0c0" fill-opacity="0.66" stroke="#4c4c4c" stroke-width="1.0"/>
<rect x="363" y="415.8" width="425.6" height="217.6" fill="#fff" stroke="#383838" stroke-width="1.2"/>
<path d="M368.0 439.10 H436.0" stroke="#0a4c9c" stroke-width="3.6" stroke-linecap="round"/>
<circle cx="401.8" cy="439.10" r="8.05" fill="#3a7dc0"/><circle cx="401.8" cy="439.10" r="8.05" fill="url(#g_blue)"/>
<text transform="translate(453.5,451.30) scale(0.984,1)" font-size="35.3" class="s"><tspan font-style="italic">Re</tspan> = 2900</text>
<path d="M368.0 481.70 H436.0" stroke="#ec5c5e" stroke-width="3.6" stroke-linecap="round"/>
<circle cx="401.8" cy="481.70" r="8.05" fill="#e8363c"/><circle cx="401.8" cy="481.70" r="8.05" fill="url(#g_red)"/>
<text transform="translate(453.5,493.90) scale(0.984,1)" font-size="35.3" class="s"><tspan font-style="italic">Re</tspan> = 3100</text>
<path d="M368.0 524.30 H436.0" stroke="#000000" stroke-width="3.6" stroke-linecap="round"/>
<circle cx="401.8" cy="524.30" r="8.05" fill="#3b3b3b"/><circle cx="401.8" cy="524.30" r="8.05" fill="url(#g_black)"/>
<text transform="translate(453.5,536.50) scale(0.984,1)" font-size="35.3" class="s"><tspan font-style="italic">Re</tspan> = 3300(Ref-case #1)</text>
<path d="M368.0 566.90 H436.0" stroke="#089150" stroke-width="3.6" stroke-linecap="round"/>
<circle cx="401.8" cy="566.90" r="8.05" fill="#089150"/><circle cx="401.8" cy="566.90" r="8.05" fill="url(#g_green)"/>
<text transform="translate(453.5,579.10) scale(0.984,1)" font-size="35.3" class="s"><tspan font-style="italic">Re</tspan> = 3500</text>
<path d="M368.0 609.50 H436.0" stroke="#f07846" stroke-width="3.6" stroke-linecap="round"/>
<circle cx="401.8" cy="609.50" r="8.05" fill="#f07846"/><circle cx="401.8" cy="609.50" r="8.05" fill="url(#g_orange)"/>
<text transform="translate(453.5,621.70) scale(0.984,1)" font-size="35.3" class="s"><tspan font-style="italic">Re</tspan> = 3700</text>
<text transform="translate(192.65,716.6) scale(0.985,1)" font-size="38.4" text-anchor="middle" class="s">-20</text>
<text transform="translate(357.75,716.6) scale(0.985,1)" font-size="38.4" text-anchor="middle" class="s">-10</text>
<text transform="translate(522.85,716.6) scale(0.985,1)" font-size="38.4" text-anchor="middle" class="s">0</text>
<text transform="translate(687.95,716.6) scale(0.985,1)" font-size="38.4" text-anchor="middle" class="s">10</text>
<text transform="translate(853.05,716.6) scale(0.985,1)" font-size="38.4" text-anchor="middle" class="s">20</text>
<text transform="translate(96.2,599.90) scale(0.975,1)" font-size="38.4" text-anchor="end" class="s">0.30</text>
<text transform="translate(96.2,494.20) scale(0.975,1)" font-size="38.4" text-anchor="end" class="s">0.35</text>
<text transform="translate(96.2,388.50) scale(0.975,1)" font-size="38.4" text-anchor="end" class="s">0.40</text>
<text transform="translate(96.2,282.80) scale(0.975,1)" font-size="38.4" text-anchor="end" class="s">0.45</text>
<text transform="translate(96.2,177.10) scale(0.975,1)" font-size="38.4" text-anchor="end" class="s">0.50</text>
<text transform="translate(96.2,71.40) scale(0.975,1)" font-size="38.4" text-anchor="end" class="s">0.55</text>
<text y="760.5" font-size="41" class="s"><tspan x="493.2" font-style="italic">x</tspan><tspan x="512.3">/</tspan><tspan x="522.9" font-style="italic">D</tspan></text>
<text x="16.3" y="355.5" font-size="41" text-anchor="middle" font-style="italic" class="s">&#981;</text>
<text x="179.3" y="52.0" font-size="35.5" font-style="italic" class="s">film hole</text>
<path d="M311.3 40.75 L357 31.2" stroke="#000" stroke-width="1.45"/>
<path d="M372.7 27.45 L354.1 27.0 L356.3 36.2 Z" fill="#000"/>
</svg>
</body></html>
